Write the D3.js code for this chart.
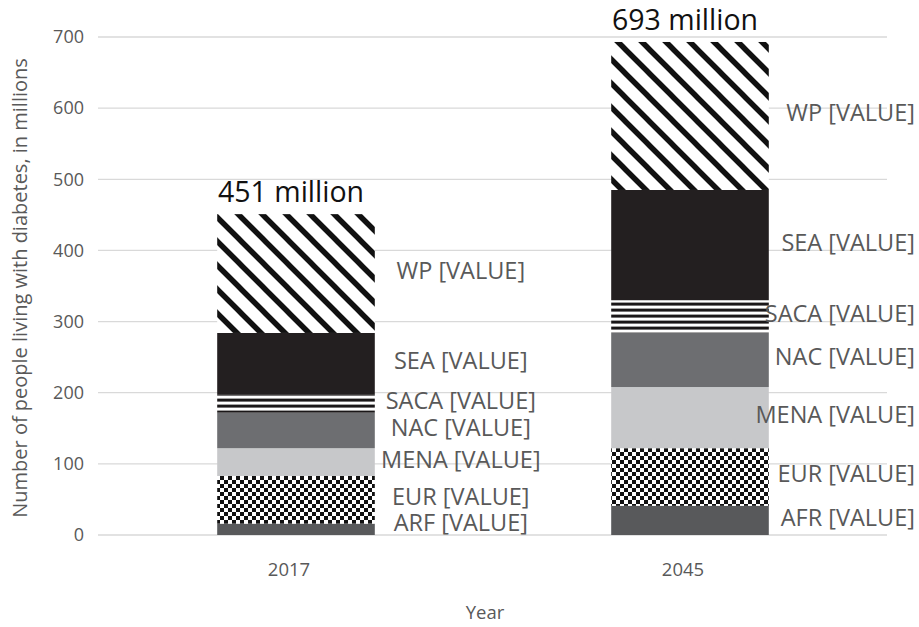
<!DOCTYPE html>
<html>
<head>
<meta charset="utf-8">
<script src="https://cdn.jsdelivr.net/npm/d3@7"></script>
<style>
  html, body { margin: 0; padding: 0; background: #fff; }
  svg { display: block; font-family: "Open Sans", "Noto Sans", sans-serif; }
</style>
</head>
<body>
<svg id="chart" width="919" height="627"></svg>
<script>
// Number of people living with diabetes by IDF region, in millions
const years = ["2017", "2045"];
const regions = ["AFR", "EUR", "MENA", "NAC", "SACA", "SEA", "WP"];
const labels2017 = ["ARF", "EUR", "MENA", "NAC", "SACA", "SEA", "WP"];
const labels2045 = ["AFR", "EUR", "MENA", "NAC", "SACA", "SEA", "WP"];
const values2017 = [16, 67, 39, 50, 25, 87, 167];
const values2045 = [41, 81, 86, 76, 46, 155, 208];
const yTicks = [0, 100, 200, 300, 400, 500, 600, 700];

const seriesValues = [values2017, values2045];
const seriesLabels = [labels2017, labels2045];

const svg = d3.select("#chart");
const defs = svg.append("defs");

// Fill patterns
const diag = defs.append("pattern").attr("id", "pat-diag")
  .attr("patternUnits", "userSpaceOnUse").attr("width", 24).attr("height", 24);
diag.append("rect").attr("width", 24).attr("height", 24).attr("fill", "#fff");
diag.append("path")
  .attr("d", "M-2,-2 L26,26 M-14,10 L2,26 M10,-14 L26,2 M-2,22 L2,26 M22,-2 L26,2")
  .attr("stroke", "#111").attr("stroke-width", 5.5).attr("fill", "none");

const checker = defs.append("pattern").attr("id", "pat-check")
  .attr("patternUnits", "userSpaceOnUse").attr("width", 8).attr("height", 8);
checker.append("rect").attr("width", 8).attr("height", 8).attr("fill", "#fff");
checker.append("rect").attr("width", 4).attr("height", 4).attr("fill", "#111");
checker.append("rect").attr("x", 4).attr("y", 4).attr("width", 4).attr("height", 4).attr("fill", "#111");

const hstripe = defs.append("pattern").attr("id", "pat-hstripe")
  .attr("patternUnits", "userSpaceOnUse").attr("width", 8).attr("height", 6);
hstripe.append("rect").attr("width", 8).attr("height", 6).attr("fill", "#fff");
hstripe.append("rect").attr("y", 2.6).attr("width", 8).attr("height", 3).attr("fill", "#1a1718");

const fills = {
  AFR: "#58595b",
  EUR: "url(#pat-check)",
  MENA: "#c7c8ca",
  NAC: "#6d6e71",
  SACA: "url(#pat-hstripe)",
  SEA: "#231f20",
  WP: "url(#pat-diag)"
};

// Scales
const x = d3.scaleBand().domain(years).range([99, 887]).paddingInner(0.6).paddingOuter(0.3);
const y = d3.scaleLinear().domain([0, 700]).range([535, 37]);

// Gridlines
svg.append("g").selectAll("line").data(yTicks).join("line")
  .attr("x1", 98).attr("x2", 887)
  .attr("y1", d => y(d)).attr("y2", d => y(d))
  .attr("stroke", "#d9d9d9").attr("stroke-width", 1.3);

// Y axis labels
const yAxis = svg.append("g").attr("transform", "translate(84,0)")
  .call(d3.axisLeft(y).tickValues(yTicks).tickSize(0).tickPadding(0));
yAxis.select(".domain").remove();
yAxis.selectAll("text").attr("font-size", 18).attr("fill", "#595959")
  .attr("font-family", "Open Sans, sans-serif");

// X axis labels
const xAxis = svg.append("g").attr("transform", "translate(-7,563)")
  .call(d3.axisBottom(x).tickSize(0).tickPadding(0));
xAxis.select(".domain").remove();
xAxis.selectAll("text").attr("font-size", 18.5).attr("fill", "#595959")
  .attr("font-family", "Open Sans, sans-serif");

// Stacked data
const stacked = years.map((yr, i) => {
  let acc = 0;
  return regions.map((r, j) => {
    const v = seriesValues[i][j];
    const seg = { year: yr, region: r, label: seriesLabels[i][j], y0: acc, y1: acc + v };
    acc += v;
    return seg;
  });
});

const bars = svg.append("g");
stacked.forEach(segs => {
  bars.selectAll(null).data(segs).join("rect")
    .attr("x", d => x(d.year))
    .attr("width", x.bandwidth())
    .attr("y", d => y(d.y1))
    .attr("height", d => y(d.y0) - y(d.y1))
    .attr("fill", d => fills[d.region]);
});

// Segment labels, kept inside the right edge of the chart
const labelG = svg.append("g");
stacked.forEach(segs => {
  segs.forEach(d => {
    const mid = Math.min(y((d.y0 + d.y1) / 2) - 3, y(0) - 12);
    const t = labelG.append("text")
      .attr("font-size", 23.5).attr("fill", "#595959")
      .attr("text-anchor", "middle")
      .attr("dy", "0.36em")
      .attr("y", mid)
      .text(d.label + " [VALUE]");
    const w = t.node().getComputedTextLength();
    let cx = x(d.year) + x.bandwidth() + 86;
    if (cx + w / 2 > 915) cx = 915 - w / 2;
    t.attr("x", cx);
  });
});

// Totals above bars
svg.append("g").selectAll("text").data(years).join("text")
  .attr("x", (d) => x(d) + x.bandwidth() / 2 - 5)
  .attr("y", (d, i) => y(d3.sum(seriesValues[i])) - 12)
  .attr("text-anchor", "middle")
  .attr("font-size", 28.5).attr("fill", "#111")
  .text((d, i) => d3.sum(seriesValues[i]) + " million");

// Axis titles
svg.append("text")
  .attr("x", 485).attr("y", 619)
  .attr("text-anchor", "middle")
  .attr("font-size", 18.5).attr("fill", "#595959")
  .text("Year");

svg.append("text")
  .attr("transform", "translate(27,288) rotate(-90)")
  .attr("text-anchor", "middle")
  .attr("font-size", 20).attr("fill", "#595959")
  .text("Number of people living with diabetes, in millions");
</script>
</body>
</html>
